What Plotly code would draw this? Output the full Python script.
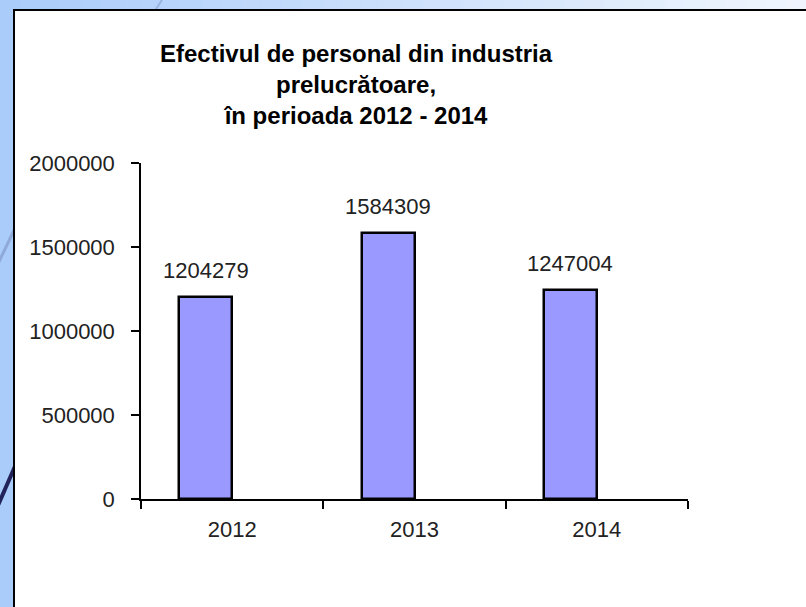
import plotly.graph_objects as go

years = ["2012", "2013", "2014"]
values = [1204279, 1584309, 1247004]
y_ticks = [0, 500000, 1000000, 1500000, 2000000]
title_lines = ["Efectivul de personal din industria", "prelucrătoare,", "în perioada 2012 - 2014"]

W, H = 806, 607
L, R, T, B = 141, 688, 163, 499  # plot area in pixels


def px(x):
    return (x - L) / (R - L)


def py(y):
    return (B - y) / (B - T)


FONT = "Liberation Sans, Arial, sans-serif"
BAR_W = 0.29

fig = go.Figure()
fig.add_trace(go.Bar(
    x=list(range(len(years))), y=values,
    width=BAR_W, offset=-BAR_W,
    marker=dict(color="#9999FF", line=dict(color="black", width=2.5)),
    showlegend=False, hoverinfo="skip",
))

shapes = []
# background gradient strip at top
n = 40
c0 = (170, 204, 250)
c1 = (240, 245, 253)
for i in range(n):
    t = i / (n - 1)
    c = tuple(int(round(c0[k] + (c1[k] - c0[k]) * t)) for k in range(3))
    x0 = W * i / n
    x1 = W * (i + 1) / n + 1
    shapes.append(dict(type="rect", xref="paper", yref="paper", layer="below",
                       x0=px(x0), x1=px(x1), y0=py(0), y1=py(12),
                       fillcolor="rgb(%d,%d,%d)" % c, line=dict(width=0)))
# decorative diagonal lines
shapes.append(dict(type="line", xref="paper", yref="paper", layer="below",
                   x0=px(162), y0=py(0), x1=px(154), y1=py(12),
                   line=dict(color="#98b4e0", width=2)))
shapes.append(dict(type="line", xref="paper", yref="paper", layer="below",
                   x0=px(16), y0=py(226), x1=px(-4), y1=py(268),
                   line=dict(color="#8fa9d8", width=3)))
shapes.append(dict(type="line", xref="paper", yref="paper", layer="below",
                   x0=px(16), y0=py(464), x1=px(-4), y1=py(510),
                   line=dict(color="#22225a", width=4)))
# white panel with black border
shapes.append(dict(type="rect", xref="paper", yref="paper", layer="below",
                   x0=px(14), x1=px(W + 20), y0=py(10), y1=py(H + 20),
                   fillcolor="white", line=dict(color="black", width=2)))

annotations = []
for i, v in enumerate(values):
    annotations.append(dict(x=i - BAR_W / 2, y=v, xref="x", yref="y", text=str(v),
                            showarrow=False, yshift=12,
                            yanchor="bottom", font=dict(family=FONT, size=22, color="#222")))
annotations.append(dict(x=px(356), y=py(85), xref="paper", yref="paper",
                        text="<b>" + "<br>".join(title_lines) + "</b>", showarrow=False,
                        xanchor="center", yanchor="middle", align="center",
                        font=dict(family=FONT, size=24, color="black")))

fig.update_layout(
    width=W, height=H,
    margin=dict(l=L, r=W - R, t=T, b=H - B, pad=0),
    paper_bgcolor="rgb(170,204,250)",
    plot_bgcolor="white",
    shapes=shapes,
    annotations=annotations,
    bargap=0,
    font=dict(family=FONT, size=22, color="#222"),
)
fig.update_xaxes(
    range=[-0.5, 2.5],
    tickvals=list(range(len(years))), ticktext=years,
    showline=True, linecolor="black", linewidth=1.5,
    ticks="", showgrid=False, zeroline=False,
    ticklabelstandoff=10,
    tickfont=dict(family=FONT, size=22, color="#222"),
)
# boundary ticks for the category axis drawn via minor ticks
fig.update_xaxes(minor=dict(tickvals=[-0.5, 0.5, 1.5, 2.5], ticks="outside", ticklen=8,
                            tickcolor="black", tickwidth=1.5, showgrid=False))
fig.update_yaxes(
    range=[0, 2000000], tickvals=y_ticks, ticktext=[str(v) for v in y_ticks],
    showline=True, linecolor="black", linewidth=1.5,
    ticks="outside", ticklen=8, tickcolor="black", tickwidth=1.5,
    showgrid=False, zeroline=False,
    ticklabelstandoff=12,
    tickfont=dict(family=FONT, size=22, color="#222"),
)

fig.write_html("out.html", config={"displayModeBar": False},
               post_script="document.body.style.margin='0px';")
